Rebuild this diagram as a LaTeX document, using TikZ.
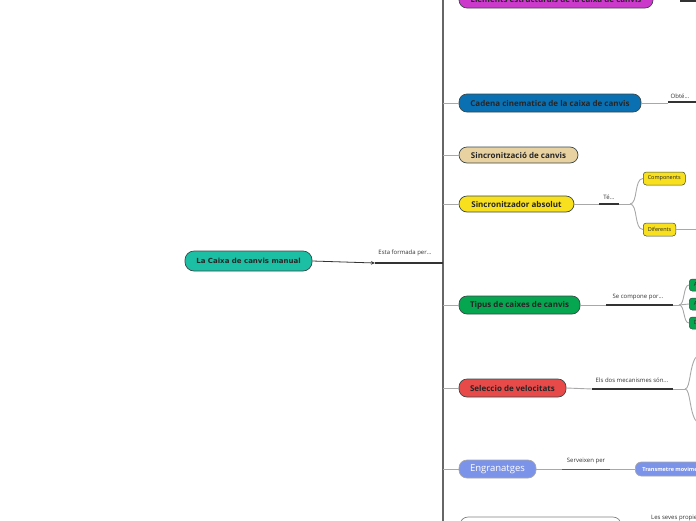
\documentclass[tikz,border=0pt]{standalone}
\usepackage{fontspec}
\setmainfont{Open Sans}
\newfontfamily\rootfont{DejaVu Sans}
\usetikzlibrary{arrows.meta,calc}

\definecolor{rootcol}{HTML}{1CBFA4}
\definecolor{elemcol}{HTML}{CC3ACC}
\definecolor{cadcol}{HTML}{0A70B2}
\definecolor{sinccol}{HTML}{E9D2A2}
\definecolor{abscol}{HTML}{F8E01E}
\definecolor{tipcol}{HTML}{06A650}
\definecolor{selcol}{HTML}{E84A4A}
\definecolor{engcol}{HTML}{7C93EA}
\definecolor{bordcol}{HTML}{3A4848}
\definecolor{twigcol}{HTML}{A8A8A8}
\definecolor{barcol}{HTML}{333333}

\begin{document}
\begin{tikzpicture}[x=1pt,y=-1pt,
  topic/.style={draw=bordcol,line width=0.7pt,rounded corners=8pt,minimum height=18pt,
    inner sep=0pt,font=\fontsize{8}{9}\selectfont\bfseries,text=black!85},
  sub/.style={draw=bordcol,line width=0.5pt,rounded corners=3pt,minimum height=13pt,
    inner xsep=4.5pt,inner ysep=0pt,font=\fontsize{5.5}{6}\selectfont,text=black!85},
  twig/.style={draw=twigcol,line width=0.9pt},
  bar/.style={draw=barcol,line width=1.8pt},
  lbl/.style={font=\fontsize{6}{7}\selectfont,text=black!80,inner sep=0pt}]

\clip (0,0) rectangle (696,520);

% central topic
\node[topic,fill=rootcol,minimum width=127,minimum height=20,rounded corners=9pt,
  font=\rootfont\fontsize{7}{8}\selectfont\bfseries] (root) at (248.5,261) {La Caixa de canvis manual};

% main topics along the trunk
\node[topic,fill=elemcol,minimum width=194] (elem) at (556,-1) {Elements estructurals de la caixa de canvis};
\node[topic,fill=cadcol,minimum width=182] (cadena) at (550,103) {Cadena cinematica de la caixa de canvis};
\node[topic,fill=sinccol,minimum width=119,minimum height=16] (sincro) at (518.5,155) {Sincronització de canvis};
\node[topic,fill=abscol,minimum width=115,minimum height=16] (absol) at (516.5,204) {Sincronitzador absolut};
\node[topic,fill=tipcol,minimum width=121] (tipus) at (519.5,305) {Tipus de caixes de canvis};
\node[topic,fill=selcol,minimum width=107] (selec) at (512.5,388) {Seleccio de velocitats};
\node[topic,fill=engcol,draw=gray!70,minimum width=77,text=white,
  font=\fontsize{9.5}{10}\selectfont] (engr) at (497.5,469) {Engranatges};
\node[topic,fill=white,draw=gray,minimum width=161,minimum height=20] (props) at (540.5,527) {};

% trunk
\coordinate (trunk) at (443,0);
\draw[draw=barcol!75,line width=1.2pt] (443,-5) -- (443,525);
\foreach \n in {elem,cadena,sincro,absol,tipus,selec,engr,props}
  \draw[twig] (\n.west -| trunk) -- (\n.west);

% root to trunk
\coordinate (tip) at (375,263);
\draw[draw=barcol,line width=0.8pt,-{Stealth[length=4pt,width=3.5pt]}] (root.east) -- (tip);
\draw[bar] (tip) -- (tip -| trunk);
\node[lbl] (rootlbl) at (405,253) {Esta formada per...};

% Elements
\coordinate (elemA) at (680,1);
\draw[twig] (elem.east) -- (elem.east -| elemA);
\draw[bar] (elemA) -- (700,1);

% Cadena
\coordinate (cadA) at (668,102);
\draw[twig] (cadena.east) -- (cadena.east -| cadA);
\draw[bar] (cadA) -- (700,102);
\node[lbl] (cadlbl) at (680,96) {Obté...};

% Sincronitzador absolut
\coordinate (absA) at (599,204);
\coordinate (absB) at (619,204);
\coordinate (absfork) at (630,204);
\draw[twig] (absol.east) -- (absA);
\draw[bar] (absA) -- (absB);
\draw[twig] (absB) -- (absfork);
\node[lbl] (abslbl) at (609,197) {Té...};
\node[sub,fill=abscol,anchor=west] (comp) at (643,178.5) {Components};
\node[sub,fill=abscol,anchor=west] (dif) at (643,229.5) {Diferents};
\draw[twig] (absfork) .. controls (638,204) and (634,178.5) .. (comp.west);
\draw[twig] (absfork) .. controls (638,204) and (634,229.5) .. (dif.west);
\draw[twig] (dif.east) -- ++(30,0);

% Tipus de caixes
\coordinate (tipA) at (606,305);
\coordinate (tipB) at (673,305);
\coordinate (tipfork) at (679,305);
\draw[twig] (tipus.east) -- (tipA);
\draw[bar] (tipA) -- (tipB);
\draw[twig] (tipB) -- (tipfork);
\node[lbl] (tiplbl) at (638,297) {Se compone por...};
\node[sub,fill=tipcol,anchor=west,minimum height=12pt] (tipa) at (689,285) {A};
\node[sub,fill=tipcol,anchor=west,minimum height=12pt] (tipb) at (689,304) {A};
\node[sub,fill=tipcol,anchor=west,minimum height=12pt] (tipc) at (689,323) {D};
\draw[twig] (tipfork) .. controls (685,305) and (683,285) .. (tipa.west);
\draw[twig] (tipfork) -- (tipb.west);
\draw[twig] (tipfork) .. controls (685,305) and (683,323) .. (tipc.west);

% Seleccio de velocitats
\coordinate (selA) at (592,389);
\coordinate (selB) at (673,389);
\coordinate (selfork) at (685,389);
\coordinate (selup) at (698,355);
\coordinate (seldn) at (698,423);
\draw[twig] (selec.east) -- (selA);
\draw[bar] (selA) -- (selB);
\draw[twig] (selB) -- (selfork);
\node[lbl] (sellbl) at (632,380) {Els dos mecanismes són...};
\draw[twig] (selfork) .. controls (691,389) and (689,362) .. (selup);
\draw[twig] (selfork) .. controls (691,389) and (689,416) .. (seldn);

% Engranatges
\coordinate (engA) at (562,469);
\coordinate (engB) at (610,469);
\node[topic,fill=engcol,draw=gray!70,anchor=west,minimum height=14,rounded corners=6pt,
  inner xsep=7pt,text=white,font=\fontsize{5.5}{6}\selectfont\bfseries] (transm) at (635,469) {Transmetre moviment};
\draw[twig] (engr.east) -- (engA);
\draw[draw=barcol!80,line width=0.9pt] (engA) -- (engB);
\draw[twig] (engB) -- (transm.west);
\node[lbl] (englbl) at (586,461) {Serveixen per};

% propietats
\node[lbl,anchor=west] (proplbl) at (651,518) {Les seves propietats...};
\end{tikzpicture}
\end{document}
